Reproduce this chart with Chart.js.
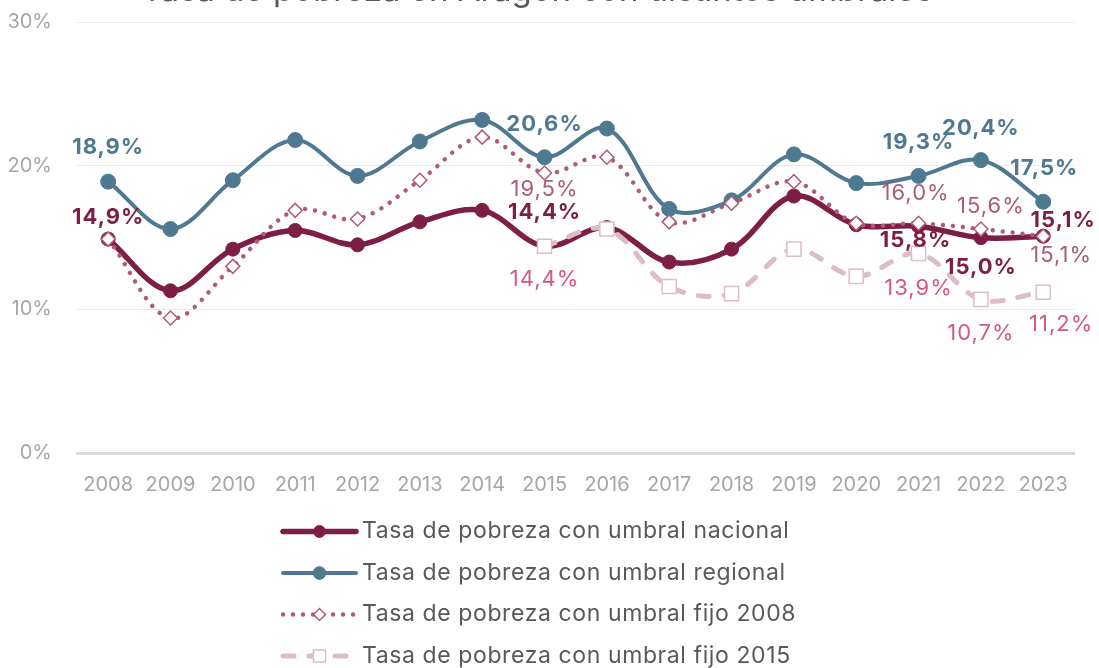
<!DOCTYPE html>
<html><head><meta charset="utf-8">
<script src="https://cdn.jsdelivr.net/npm/chart.js@4"></script>
<style>
html,body{margin:0;padding:0;background:#fff;overflow:hidden;width:1099px;height:668px;}
#wrap{position:absolute;left:0;top:-30px;width:1099px;height:698px;}
</style></head><body>
<div id="wrap"><canvas id="c" width="1099" height="698"></canvas></div>
<script>
const years = ['2008','2009','2010','2011','2012','2013','2014','2015','2016','2017','2018','2019','2020','2021','2022','2023'];
const nacional = [14.9, 11.3, 14.2, 15.5, 14.5, 16.1, 16.9, 14.4, 15.7, 13.3, 14.2, 17.9, 15.9, 15.8, 15.0, 15.1];
const regional = [18.9, 15.6, 19.0, 21.8, 19.3, 21.7, 23.2, 20.6, 22.6, 17.0, 17.6, 20.8, 18.8, 19.3, 20.4, 17.5];
const fijo2008 = [14.9, 9.4, 13.0, 16.9, 16.3, 19.0, 22.0, 19.5, 20.6, 16.1, 17.4, 18.9, 16.0, 16.0, 15.6, 15.1];
const fijo2015 = [null, null, null, null, null, null, null, 14.4, 15.6, 11.6, 11.1, 14.2, 12.3, 13.9, 10.7, 11.2];
const seriesNames = [
  'Tasa de pobreza con umbral nacional',
  'Tasa de pobreza con umbral regional',
  'Tasa de pobreza con umbral fijo 2008',
  'Tasa de pobreza con umbral fijo 2015'
];
const yTicks = [0, 10, 20, 30];
const titleText = 'Tasa de pobreza en Aragón con distintos umbrales';

const FONT = 'Inter, "Noto Sans", "DejaVu Sans", sans-serif';
const fmt = v => v.toFixed(1).replace('.', ',') + '%';

const pointLabels = {
  id: 'pointLabels',
  afterDatasetsDraw(chart, args, opts) {
    const ctx = chart.ctx;
    opts.items.forEach(item => {
      const meta = chart.getDatasetMeta(item.ds);
      const data = chart.data.datasets[item.ds].data;
      item.marks.forEach(([i, dx, dy]) => {
        const el = meta.data[i];
        ctx.save();
        ctx.font = (item.bold ? 'bold ' : '') + opts.size + 'px ' + FONT;
        ctx.letterSpacing = opts.spacing;
        ctx.fillStyle = item.color;
        ctx.textAlign = 'center';
        ctx.textBaseline = 'middle';
        ctx.fillText(fmt(data[i]), el.x + dx, el.y + dy);
        ctx.letterSpacing = '0px';
        ctx.restore();
      });
    });
  }
};

const lineLegend = {
  id: 'lineLegend',
  afterDraw(chart, args, opts) {
    const ctx = chart.ctx;
    const base = chart.chartArea.bottom;
    chart.data.datasets.forEach((ds, k) => {
      const y = base + opts.rows[k];
      ctx.save();
      ctx.strokeStyle = ds.borderColor;
      ctx.lineWidth = ds.borderWidth;
      ctx.lineCap = ds.borderCapStyle || 'butt';
      ctx.setLineDash(ds.borderDash || []);
      ctx.beginPath();
      ctx.moveTo(opts.x0, y);
      ctx.lineTo(opts.x1, y);
      ctx.stroke();
      ctx.setLineDash([]);
      ctx.fillStyle = ds.pointBackgroundColor;
      ctx.strokeStyle = ds.pointBorderColor;
      ctx.lineWidth = ds.pointBorderWidth;
      Chart.helpers.drawPoint(ctx, {pointStyle: ds.pointStyle, radius: ds.pointRadius * opts.pointScale, borderWidth: ds.pointBorderWidth, rotation: 0}, (opts.x0 + opts.x1) / 2, y);
      ctx.fillStyle = opts.color;
      ctx.font = opts.size + 'px ' + FONT;
      ctx.letterSpacing = opts.spacing;
      ctx.textAlign = 'left';
      ctx.textBaseline = 'middle';
      ctx.fillText(seriesNames[k], opts.textX, y);
      ctx.letterSpacing = '0px';
      ctx.restore();
    });
  }
};

const C_NAC = '#7D1E46', C_REG = '#4E7990', C_F08 = '#B05A7A', C_F15 = '#DDBCC8';

new Chart(document.getElementById('c'), {
  type: 'line',
  data: {
    labels: years,
    datasets: [
      { label: seriesNames[0], data: nacional, borderColor: C_NAC, backgroundColor: C_NAC,
        borderWidth: 5.5, pointStyle: 'circle', pointRadius: 7, pointBackgroundColor: C_NAC, pointBorderColor: C_NAC,
        pointBorderWidth: 1, tension: 0.35, order: 3, borderCapStyle: 'round' },
      { label: seriesNames[1], data: regional, borderColor: C_REG, backgroundColor: C_REG,
        borderWidth: 4, pointStyle: 'circle', pointRadius: 7.5, pointBackgroundColor: C_REG, pointBorderColor: C_REG,
        pointBorderWidth: 1, tension: 0.35, order: 2, borderCapStyle: 'round' },
      { label: seriesNames[2], data: fijo2008, borderColor: C_F08, backgroundColor: '#fff',
        borderWidth: 4.5, borderDash: [0.01, 10], borderCapStyle: 'round',
        pointStyle: 'rectRot', pointRadius: 7, pointBackgroundColor: '#fff', pointBorderColor: C_F08,
        pointBorderWidth: 1.5, tension: 0.35, order: 1 },
      { label: seriesNames[3], data: fijo2015, borderColor: C_F15, backgroundColor: '#fff',
        borderWidth: 5, borderDash: [11, 15], borderCapStyle: 'round',
        pointStyle: 'rect', pointRadius: 10, pointBackgroundColor: '#fff', pointBorderColor: C_F15,
        pointBorderWidth: 1.5, tension: 0.35, order: 0 }
    ]
  },
  options: {
    responsive: false,
    animation: false,
    layout: { padding: { left: 0, right: 24.6, top: 0, bottom: 0 } },
    plugins: {
      title: { display: true, text: titleText, color: '#595959',
        font: { family: FONT, size: 33, weight: 'normal' }, padding: { top: 1.2, bottom: 11.5 } },
      legend: { display: false },
      tooltip: { enabled: false },
      pointLabels: {
        size: 22, spacing: '1px',
        items: [
          { ds: 0, color: C_NAC, bold: true, marks: [[0, 0, -22], [7, 0, -34], [13, -3, 14], [14, 0, 30], [15, 20, -16]] },
          { ds: 1, color: C_REG, bold: true, marks: [[0, 0, -34], [7, 0, -33], [13, 0, -34], [14, 0, -32], [15, 1, -33]] },
          { ds: 2, color: '#A85E7A', bold: false, marks: [[7, 0, 16], [13, -3, -30], [14, 10, -23], [15, 18, 19]] },
          { ds: 3, color: '#D6568A', bold: false, marks: [[7, 0, 33], [13, 0, 35], [14, 0, 34], [15, 18, 32]] }
        ]
      },
      lineLegend: { rows: [78.5, 120, 161.5, 203], x0: 283, x1: 356, textX: 362, size: 23, spacing: '0.6px', color: '#595959', pointScale: 0.85 }
    },
    scales: {
      x: {
        offset: true,
        grid: { display: false, drawTicks: false },
        border: { display: true, color: '#D9D9D9', width: 3 },
        ticks: { color: '#A6A6A6', font: { family: FONT, size: 20 }, padding: 20, maxRotation: 0, autoSkip: false },
        afterFit: s => { s.height = 215; }
      },
      y: {
        min: 0, max: 30,
        afterBuildTicks: s => { s.ticks = yTicks.map(v => ({ value: v })); },
        grid: { color: ctx => ctx.tick && ctx.tick.value === 0 ? 'rgba(0,0,0,0)' : '#EAEAEA', lineWidth: 1, drawTicks: false },
        border: { display: false },
        ticks: { color: '#A6A6A6', font: { family: FONT, size: 20 }, padding: 25, callback: v => v + '%' },
        afterFit: s => { s.width = 77; }
      }
    }
  },
  plugins: [pointLabels, lineLegend]
});
</script>
</body></html>
